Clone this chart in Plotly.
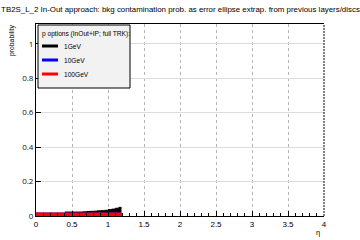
import plotly.graph_objects as go

# ---- data ----
black_eta = [0.40, 0.45, 0.50, 0.55, 0.60, 0.65, 0.70, 0.75, 0.80, 0.85, 0.90, 0.95, 1.00, 1.05, 1.10, 1.15, 1.1875]
black_val = [0.023, 0.023, 0.023, 0.023, 0.023, 0.024, 0.026, 0.027, 0.028, 0.030, 0.031, 0.033, 0.037, 0.040, 0.045, 0.050, 0.050]
blue_eta = [0.0, 1.1875]
blue_val = [0.0, 0.0]
red_eta = [0.0, 1.1875]
red_val = [0.0, 0.0]

series_names = ["1GeV", "10GeV", "100GeV"]
series_colors = ["#000000", "#0000ff", "#ff0000"]

x_ticks = [0, 0.5, 1, 1.5, 2, 2.5, 3, 3.5, 4]
x_labels = ["0", "0.5", "1", "1.5", "2", "2.5", "3", "3.5", "4"]
y_ticks = [0, 0.2, 0.4, 0.6, 0.8, 1.0]
y_labels = ["0", "0.2", "0.4", "0.6", "0.8", "1"]

title_text = "TB2S_L_2 In-Out approach: bkg contamination prob. as error ellipse extrap. from previous layers/discs"
legend_title = "p options (InOut+IP; full TRK):"

FONT = "Liberation Sans, Arial, sans-serif"

fig = go.Figure()
fig.add_trace(go.Scatter(x=black_eta, y=black_val, mode="lines", line=dict(color=series_colors[0], width=1, shape="hv"),
                         fill="tozeroy", fillcolor=series_colors[0], showlegend=False))
fig.add_trace(go.Scatter(x=blue_eta, y=blue_val, mode="lines", line=dict(color=series_colors[1], width=7),
                         showlegend=False))
fig.add_trace(go.Scatter(x=red_eta, y=red_val, mode="lines", line=dict(color=series_colors[2], width=7),
                         showlegend=False))

W, H = 360, 240
L, R, T, B = 36, 36, 24, 24
pw, ph = W - L - R, H - T - B

def px(x):
    return (x - L) / pw

def py(y):
    return (H - B - y) / ph

shapes = [
    dict(type="line", xref="paper", yref="paper", x0=1, x1=1, y0=0, y1=1,
         line=dict(color="black", width=1, dash="2px,1px"), layer="above"),
    dict(type="rect", xref="paper", yref="paper", x0=px(38), x1=px(130), y0=py(88), y1=py(25),
         fillcolor="#f2f2f2", line=dict(color="black", width=1), layer="above"),
]
annotations = [dict(text=legend_title, xref="paper", yref="paper", x=px(40), y=py(34), xanchor="left", yanchor="middle",
                    showarrow=False, font=dict(family=FONT, size=6.6, color="black"))]
for i, (nm, col) in enumerate(zip(series_names, series_colors)):
    yy = [46, 60, 74][i]
    shapes.append(dict(type="line", xref="paper", yref="paper", x0=px(42), x1=px(58), y0=py(yy), y1=py(yy),
                       line=dict(color=col, width=3), layer="above"))
    annotations.append(dict(text=nm, xref="paper", yref="paper", x=px(62), y=py(yy), xanchor="left", yanchor="middle",
                            showarrow=False, font=dict(family=FONT, size=6.6, color="black")))

annotations.append(dict(text="probability", xref="paper", yref="paper", x=px(12), y=py(22), xanchor="center",
                        yanchor="top", textangle=-90, showarrow=False, font=dict(family=FONT, size=6.8, color="black")))
annotations.append(dict(text="η", xref="paper", yref="paper", x=px(322), y=py(232), xanchor="right",
                        yanchor="middle", showarrow=False, font=dict(family=FONT, size=7.5, color="black")))

fig.update_layout(
    width=W, height=H,
    margin=dict(l=L, r=R, t=T, b=B),
    paper_bgcolor="white", plot_bgcolor="white",
    title=dict(text=title_text, x=0.003, xref="container", xanchor="left", y=1 - 9 / H, yref="container",
               yanchor="middle", font=dict(family=FONT, size=7.9, color="black")),
    shapes=shapes, annotations=annotations,
    showlegend=False,
)
fig.update_xaxes(range=[0, 4], tickmode="array", tickvals=x_ticks, ticktext=x_labels,
                 showgrid=True, gridcolor="#b4b4b4", griddash="dot", gridwidth=1,
                 showline=True, linecolor="black", linewidth=1, mirror=True, ticks="inside", ticklen=5,
                 tickcolor="black", zeroline=False,
                 minor=dict(dtick=0.1, tick0=0, ticks="inside", ticklen=3, tickcolor="black", showgrid=False),
                 tickfont=dict(family=FONT, size=8, color="black"))
fig.update_yaxes(range=[0, 1.115], tickmode="array", tickvals=y_ticks, ticktext=y_labels,
                 showgrid=True, gridcolor="#dcdcdc", gridwidth=1,
                 showline=True, linecolor="black", linewidth=1, ticks="inside", ticklen=5,
                 tickcolor="black", zeroline=False,
                 tickfont=dict(size=8, color="#111111"))

fig.write_html("out.html")
